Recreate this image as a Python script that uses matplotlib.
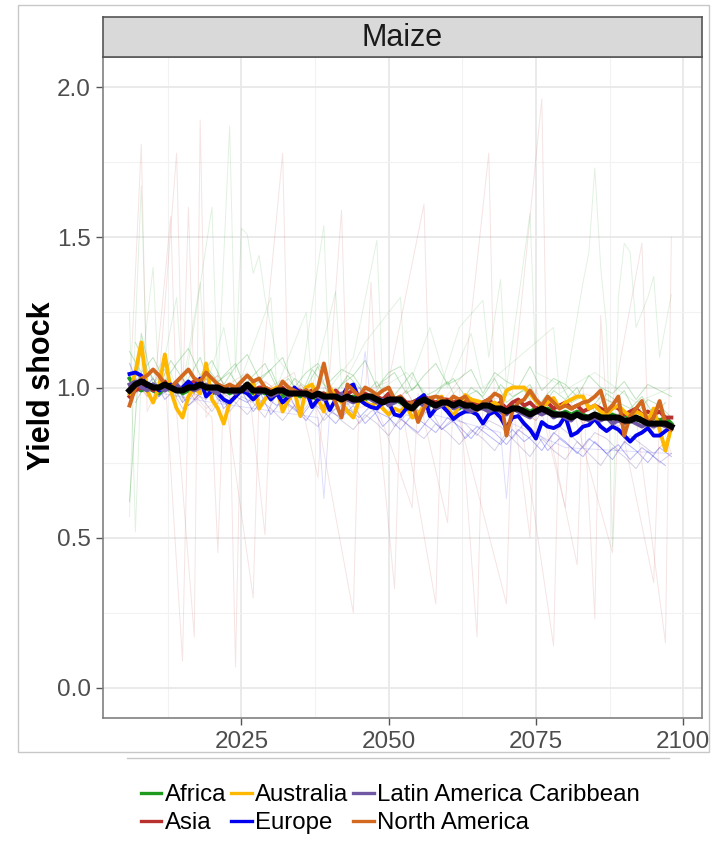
import numpy as np
import matplotlib
matplotlib.use('Agg')
import matplotlib.pyplot as plt
from matplotlib.lines import Line2D
from matplotlib.patches import Rectangle
from matplotlib.ticker import FixedLocator

plt.rcParams['font.family'] = ['Liberation Sans', 'DejaVu Sans']

# years of the simulation
years = np.arange(2006, 2099)
even_years = np.arange(2006, 2099, 2)
odd_years = np.arange(2007, 2098, 2)

regions = ['Africa', 'Asia', 'Australia', 'Europe', 'Latin America Caribbean', 'North America']
region_colors = ['#1E9A1E', '#B8312F', '#FFB800', '#0000EE', '#7058A3', '#D2691E']

# regional means (thick lines), 2006-2098
africa = [1.03, 1.00, 0.99, 1.00, 0.99, 0.98, 1.00, 0.99, 1.01, 0.98,
          0.99, 1.00, 0.99, 1.00, 0.98, 0.99, 1.00, 0.98, 0.99, 1.00,
          0.99, 0.98, 0.99, 0.98, 0.99, 0.98, 0.97, 0.99, 0.98, 0.97,
          0.98, 0.97, 0.96, 0.98, 0.97, 0.96, 0.97, 0.96, 0.97, 0.96,
          0.96, 0.97, 0.95, 0.96, 0.95, 0.96, 0.95, 0.94, 0.95, 0.96,
          0.95, 0.94, 0.95, 0.94, 0.95, 0.94, 0.93, 0.95, 0.94, 0.93,
          0.94, 0.93, 0.94, 0.92, 0.93, 0.94, 0.92, 0.93, 0.92, 0.93,
          0.92, 0.93, 0.92, 0.91, 0.92, 0.91, 0.92, 0.91, 0.90, 0.91,
          0.91, 0.90, 0.91, 0.90, 0.91, 0.90, 0.89, 0.90, 0.89, 0.90,
          0.89, 0.90, 0.88]
asia = [0.97, 0.99, 1.00, 1.01, 0.99, 1.00, 1.02, 1.00, 0.99, 1.00,
        1.01, 1.02, 1.01, 1.00, 0.99, 1.01, 1.00, 0.99, 1.00, 1.00,
        1.00, 0.99, 1.00, 1.00, 0.99, 0.99, 1.00, 0.98, 0.99, 0.99,
        0.98, 0.99, 0.98, 0.98, 0.97, 0.99, 0.97, 0.98, 0.99, 0.97,
        0.98, 0.97, 0.97, 0.96, 0.98, 0.96, 0.97, 0.95, 0.95, 0.96,
        0.97, 0.96, 0.95, 0.96, 0.96, 0.95, 0.96, 0.95, 0.96, 0.94,
        0.95, 0.96, 0.94, 0.95, 0.93, 0.95, 0.96, 0.94, 0.95, 0.93,
        0.94, 0.95, 0.93, 0.94, 0.95, 0.93, 0.94, 0.92, 0.93, 0.94,
        0.93, 0.92, 0.94, 0.93, 0.91, 0.92, 0.93, 0.91, 0.92, 0.91,
        0.92, 0.90, 0.90]
australia = [0.98, 1.05, 1.15, 0.99, 0.95, 1.00, 1.11, 0.99, 0.93, 0.90,
             0.97, 1.00, 0.98, 1.08, 0.96, 0.93, 0.88, 0.95, 0.97, 1.00,
             0.98, 1.02, 0.93, 0.96, 0.99, 1.00, 0.92, 0.96, 0.99, 0.905,
             1.00, 1.01, 0.96, 0.92, 1.00, 0.97, 0.95, 0.92, 0.90, 0.96,
             0.95, 0.94, 0.95, 0.93, 0.91, 0.93, 0.92, 0.94, 0.90, 0.91,
             0.94, 0.955, 0.93, 0.97, 0.93, 0.905, 0.94, 0.975, 0.96, 0.955,
             0.95, 0.94, 0.95, 0.935, 0.99, 1.00, 1.00, 1.00, 0.98, 0.955,
             0.93, 0.95, 0.965, 0.93, 0.95, 0.96, 0.97, 0.97, 0.93, 0.94,
             0.92, 0.91, 0.93, 0.94, 0.92, 0.905, 0.92, 0.91, 0.89, 0.93,
             0.86, 0.79, 0.87]
europe = [1.045, 1.05, 1.04, 1.00, 1.01, 0.99, 1.00, 1.01, 0.99, 1.00,
          1.02, 1.00, 1.03, 0.97, 0.99, 0.98, 0.96, 0.95, 0.97, 0.99,
          0.98, 0.96, 0.98, 0.99, 0.96, 0.98, 0.95, 0.97, 1.00, 0.98,
          0.99, 0.935, 0.96, 0.97, 0.925, 0.96, 0.97, 1.00, 1.01, 0.96,
          0.945, 0.935, 0.93, 0.95, 0.95, 0.91, 0.905, 0.93, 0.93, 0.96,
          0.975, 0.905, 0.93, 0.94, 0.92, 0.895, 0.91, 0.92, 0.92, 0.91,
          0.88, 0.91, 0.92, 0.90, 0.865, 0.90, 0.905, 0.88, 0.86, 0.83,
          0.885, 0.87, 0.865, 0.875, 0.905, 0.84, 0.85, 0.87, 0.875, 0.895,
          0.87, 0.855, 0.87, 0.86, 0.84, 0.82, 0.84, 0.85, 0.865, 0.84,
          0.84, 0.855, 0.87]
latin_america = [1.01, 1.02, 1.00, 0.99, 1.01, 1.00, 0.99, 1.00, 1.01, 0.99,
                 1.00, 0.99, 1.00, 1.01, 0.99, 0.98, 1.00, 0.99, 0.98, 1.00,
                 0.99, 0.99, 0.98, 0.99, 0.97, 0.98, 0.99, 0.97, 0.98, 0.98,
                 0.97, 0.98, 0.97, 0.96, 0.97, 0.96, 0.98, 0.96, 0.95, 0.96,
                 0.97, 0.96, 0.95, 0.96, 0.94, 0.95, 0.96, 0.94, 0.93, 0.95,
                 0.94, 0.95, 0.93, 0.94, 0.95, 0.93, 0.94, 0.93, 0.92, 0.93,
                 0.93, 0.92, 0.93, 0.92, 0.91, 0.93, 0.92, 0.91, 0.90, 0.92,
                 0.91, 0.92, 0.90, 0.91, 0.90, 0.89, 0.91, 0.90, 0.89, 0.90,
                 0.89, 0.90, 0.88, 0.89, 0.88, 0.89, 0.88, 0.87, 0.88, 0.87,
                 0.88, 0.87, 0.87]
north_america = [0.94, 1.00, 1.03, 1.04, 1.06, 1.04, 1.01, 1.00, 1.02, 1.04,
                 1.06, 1.03, 1.02, 1.05, 1.03, 1.01, 1.00, 1.01, 1.00, 1.02,
                 1.04, 1.02, 1.03, 1.00, 0.99, 0.985, 1.02, 1.00, 0.99, 0.98,
                 0.99, 0.98, 1.00, 1.08, 0.99, 0.95, 0.90, 1.01, 0.99, 0.97,
                 1.00, 0.99, 0.975, 0.99, 1.00, 0.96, 0.97, 0.94, 0.95, 0.885,
                 0.93, 0.965, 0.97, 0.965, 0.95, 0.97, 0.96, 0.97, 0.94, 0.925,
                 0.95, 0.96, 0.98, 0.97, 0.84, 0.92, 0.95, 0.96, 0.99, 0.96,
                 0.94, 0.97, 0.95, 0.93, 0.94, 0.93, 0.94, 0.95, 0.955, 0.97,
                 0.99, 0.92, 0.94, 0.97, 0.84, 0.905, 0.93, 0.955, 0.88, 0.90,
                 0.955, 0.88, 0.86]
global_mean = [0.99, 1.01, 1.02, 1.01, 1.00, 1.00, 1.01, 1.00, 0.99, 0.99,
               1.00, 1.00, 1.01, 1.00, 1.00, 1.00, 0.99, 0.99, 0.99, 0.99,
               1.01, 0.99, 0.99, 0.99, 0.98, 0.99, 0.99, 0.98, 0.98, 0.98,
               0.98, 0.97, 0.98, 0.97, 0.97, 0.97, 0.96, 0.97, 0.96, 0.96,
               0.97, 0.97, 0.96, 0.95, 0.96, 0.96, 0.96, 0.94, 0.93, 0.95,
               0.96, 0.95, 0.94, 0.95, 0.95, 0.94, 0.95, 0.94, 0.94, 0.93,
               0.94, 0.94, 0.93, 0.93, 0.92, 0.93, 0.93, 0.92, 0.91, 0.92,
               0.93, 0.92, 0.91, 0.91, 0.91, 0.90, 0.91, 0.90, 0.90, 0.91,
               0.90, 0.90, 0.90, 0.90, 0.89, 0.89, 0.90, 0.89, 0.88, 0.88,
               0.88, 0.88, 0.87]

# single-country series (faint lines), every other year
cty_africa_a = [1.12, 1.05, 1.10, 1.02, 1.08, 1.13, 1.04, 1.09, 1.01, 1.07,
                1.11, 1.03, 1.06, 1.10, 1.00, 1.05, 1.08, 1.02, 1.06, 1.04,
                1.09, 1.00, 1.05, 1.07, 0.99, 1.04, 1.08, 1.01, 1.03, 1.06,
                0.98, 1.05, 1.02, 1.00, 1.07, 0.99, 1.03, 1.01, 0.97, 1.04,
                1.00, 0.98, 1.02, 0.96, 1.01, 0.99, 0.97]
cty_latam_a = [0.95, 1.02, 0.97, 1.00, 0.93, 0.98, 0.96, 1.01, 0.92, 0.97,
               0.95, 0.90, 0.98, 0.94, 0.91, 0.96, 0.89, 0.93, 0.95, 0.88,
               0.92, 0.94, 0.87, 0.91, 0.89, 0.93, 0.86, 0.90, 0.88, 0.84,
               0.89, 0.87, 0.83, 0.88, 0.85, 0.82, 0.87, 0.84, 0.80, 0.85,
               0.83, 0.79, 0.84, 0.81, 0.78, 0.82]
cty_europe_a = [1.08, 0.99, 1.03, 0.96, 1.00, 0.94, 0.98, 1.01, 0.93, 0.97,
                0.95, 0.99, 0.91, 0.96, 0.93, 0.89, 0.95, 0.92, 0.90, 0.94,
                0.88, 0.92, 0.90, 0.86, 0.91, 0.88, 0.85, 0.90, 0.87, 0.83,
                0.88, 0.85, 0.81, 0.86, 0.83, 0.79, 0.85, 0.82, 0.78, 0.83,
                0.80, 0.76, 0.82, 0.79, 0.75, 0.80, 0.77]
cty_asia_a = [1.02, 0.97, 1.05, 0.99, 1.03, 0.96, 1.01, 1.04, 0.98, 1.00,
              0.96, 1.02, 0.99, 0.95, 1.01, 0.97, 0.94, 0.99, 0.96, 1.00,
              0.93, 0.97, 0.95, 0.99, 0.92, 0.96, 0.94, 0.90, 0.95, 0.93,
              0.97, 0.91, 0.94, 0.92, 0.89, 0.95, 0.91, 0.93, 0.88, 0.92,
              0.90, 0.87, 0.91, 0.89, 0.86, 0.90]
cty_africa_b = [1.15, 1.06, 1.00, 1.09, 1.03, 0.98, 1.07, 1.02, 1.05, 0.99,
                1.04, 1.08, 1.00, 1.03, 0.97, 1.06, 1.01, 0.98, 1.04, 1.00,
                0.96, 1.02, 1.05, 0.98, 1.01, 0.95, 1.00, 1.03, 0.97, 0.99,
                0.94, 1.01, 0.97, 0.99, 0.93, 0.98, 1.02, 0.95, 0.97, 0.92,
                0.98, 0.95, 0.93, 0.97, 0.91, 0.95]
cty_latam_b = [1.00, 1.04, 0.95, 0.99, 1.02, 0.94, 0.97, 0.92, 0.98, 0.95,
               0.91, 0.96, 0.93, 0.89, 0.94, 0.90, 0.87, 0.93, 0.89, 0.86,
               0.91, 0.88, 0.84, 0.90, 0.86, 0.83, 0.88, 0.85, 0.81, 0.86,
               0.83, 0.79, 0.85, 0.81, 0.77, 0.83, 0.79, 0.76, 0.82, 0.78,
               0.74, 0.80, 0.77, 0.73, 0.79, 0.75, 0.78]
cty_europe_b = [1.05, 1.00, 0.97, 1.02, 0.95, 0.99, 1.03, 0.96, 0.94, 0.99,
                0.92, 0.97, 0.94, 0.98, 0.90, 0.95, 0.92, 0.88, 0.93, 0.90,
                0.94, 0.87, 0.91, 0.88, 0.85, 0.90, 0.86, 0.89, 0.83, 0.87,
                0.84, 0.81, 0.86, 0.82, 0.85, 0.79, 0.83, 0.80, 0.77, 0.82,
                0.78, 0.81, 0.76, 0.80, 0.77, 0.74]
cty_africa_c = [0.62, 1.18, 1.01, 1.06, 0.97, 1.03, 1.10, 0.99, 1.04, 1.08,
                0.98, 1.02, 1.06, 0.97, 1.03, 1.00, 1.07, 0.96, 1.01, 1.04,
                0.98, 1.02, 0.95, 1.00, 1.05, 0.97, 0.99, 1.02, 0.94, 1.00,
                0.97, 1.03, 0.95, 0.98, 1.01, 0.93, 0.99, 0.96, 1.00, 0.92,
                0.97, 0.95, 0.99, 0.91, 0.96, 0.94, 0.90]

# volatile countries, (year, value) at the readable turning points
spiky_asia_a = [(2006, 0.95), (2008, 1.81), (2009, 0.92), (2012, 1.05), (2015, 0.09), (2016, 1.0),
                (2019, 0.93), (2023, 0.98), (2024, 0.07), (2025, 1.02), (2028, 0.95), (2032, 1.78),
                (2033, 0.92), (2037, 1.0), (2044, 0.25), (2045, 0.98), (2050, 1.02), (2056, 1.61),
                (2057, 0.9), (2062, 1.0), (2065, 0.17), (2066, 0.95), (2071, 0.98), (2076, 1.96),
                (2077, 0.88), (2082, 0.41), (2083, 0.98), (2088, 0.95), (2093, 1.48), (2094, 0.88),
                (2098, 0.85)]
spiky_asia_b = [(2006, 1.05), (2010, 0.95), (2013, 1.57), (2014, 0.92), (2017, 0.17), (2018, 1.89),
                (2019, 0.90), (2022, 1.0), (2026, 1.05), (2029, 0.51), (2030, 1.0), (2035, 0.93),
                (2040, 1.05), (2042, 1.59), (2043, 0.92), (2048, 0.95), (2051, 0.33), (2052, 0.96),
                (2058, 0.28), (2059, 0.95), (2063, 1.05), (2067, 1.78), (2068, 0.9), (2072, 0.95),
                (2078, 0.14), (2079, 0.93), (2083, 1.0), (2085, 0.23), (2086, 1.24), (2087, 0.92),
                (2092, 0.9), (2097, 0.15), (2098, 1.5)]
spiky_asia_c = [(2006, 0.97), (2011, 1.02), (2014, 1.78), (2015, 0.95), (2016, 1.6), (2017, 0.96),
                (2020, 0.9), (2021, 0.45), (2022, 1.0), (2027, 0.3), (2028, 0.98), (2034, 1.05),
                (2038, 0.7), (2039, 1.0), (2046, 0.95), (2047, 1.35), (2048, 0.94), (2054, 0.6),
                (2055, 0.98), (2060, 0.55), (2061, 0.97), (2070, 0.28), (2071, 0.96), (2074, 0.5),
                (2075, 1.0), (2080, 0.6), (2081, 0.95), (2088, 0.45), (2089, 0.92), (2095, 0.35),
                (2096, 0.9), (2098, 0.78)]
spiky_africa_a = [(2006, 0.57), (2007, 1.2), (2008, 1.67), (2009, 1.0), (2012, 1.1), (2015, 0.95),
                  (2020, 1.6), (2021, 1.0), (2023, 1.87), (2024, 1.05), (2025, 1.53), (2026, 1.51),
                  (2027, 1.38), (2028, 1.44), (2029, 1.3), (2031, 1.1), (2035, 1.0), (2039, 1.54),
                  (2040, 1.0), (2044, 1.1), (2048, 1.49), (2049, 1.0), (2053, 1.05), (2058, 0.95),
                  (2062, 1.2), (2066, 1.29), (2067, 1.1), (2069, 1.36), (2070, 1.0), (2074, 1.58),
                  (2075, 1.05), (2080, 1.0), (2083, 1.35), (2084, 1.45), (2085, 1.73), (2086, 1.4),
                  (2087, 1.2), (2088, 0.47), (2089, 1.3), (2090, 1.48), (2091, 1.45), (2092, 1.2),
                  (2094, 1.3), (2095, 1.37), (2096, 1.1), (2098, 1.31)]
spiky_africa_b = [(2006, 1.25), (2007, 0.52), (2008, 1.05), (2010, 1.4), (2011, 1.0), (2014, 1.3),
                  (2015, 1.0), (2018, 1.35), (2019, 1.0), (2022, 1.2), (2024, 0.98), (2030, 1.3),
                  (2031, 1.0), (2036, 1.25), (2037, 1.0), (2041, 1.32), (2042, 1.0), (2046, 1.15),
                  (2052, 1.3), (2053, 0.98), (2057, 1.2), (2060, 1.0), (2064, 1.18), (2066, 1.0),
                  (2072, 1.1), (2078, 1.2), (2079, 0.98), (2085, 1.05), (2092, 0.95), (2098, 1.0)]
spiky_latam = [(2006, 1.0), (2020, 0.95), (2038, 0.9), (2039, 0.63), (2040, 0.92), (2045, 0.96),
               (2046, 1.12), (2047, 0.95), (2050, 0.95), (2069, 0.85), (2070, 0.63), (2071, 0.88),
               (2080, 0.8), (2098, 0.78)]

fig = plt.figure(figsize=(7.15, 8.48), dpi=100)
W, H = 715, 848

# outer frame and legend box edge
fig.add_artist(Rectangle((18 / W, 1 - 752 / H), (709 - 18) / W, (752 - 5) / H,
                         transform=fig.transFigure, fill=False, edgecolor='#C8C8C8', lw=1))
fig.add_artist(Line2D([127 / W, 669 / W], [1 - 758 / H, 1 - 758 / H],
                      transform=fig.transFigure, color='#C8C8C8', lw=1))

ax = fig.add_axes([103 / W, 1 - 718 / H, (702 - 103) / W, (718 - 57) / H])

# faint country lines
faint = [(even_years, cty_africa_a, region_colors[0]),
         (odd_years, cty_latam_a, region_colors[4]),
         (even_years, cty_europe_a, region_colors[3]),
         (odd_years, cty_asia_a, region_colors[1]),
         (odd_years, cty_africa_b, region_colors[0]),
         (even_years, cty_latam_b, region_colors[4]),
         (odd_years, cty_europe_b, region_colors[3]),
         (even_years, cty_africa_c, region_colors[0])]
for x, y, c in faint:
    ax.plot(x, y, color=c, alpha=0.28, lw=0.7)

spiky = [(spiky_asia_a, region_colors[1]), (spiky_asia_b, region_colors[1]),
         (spiky_asia_c, region_colors[1]), (spiky_africa_a, region_colors[0]),
         (spiky_africa_b, region_colors[0]), (spiky_latam, region_colors[3])]
for pts, c in spiky:
    xs, ys = zip(*pts)
    ax.plot(xs, ys, color=c, alpha=0.13, lw=0.7)

# regional means
for series, c in zip([africa, asia, australia, europe, latin_america, north_america], region_colors):
    ax.plot(years, series, color=c, lw=2.8, solid_joinstyle='round')
ax.plot(years, global_mean, color='black', lw=4.4, solid_joinstyle='round')

ax.set_xlim(2001.5, 2103.2)
ax.set_ylim(-0.1, 2.1)
ax.xaxis.set_major_locator(FixedLocator([2025, 2050, 2075, 2100]))
ax.xaxis.set_minor_locator(FixedLocator([2012.5, 2037.5, 2062.5, 2087.5]))
ax.yaxis.set_major_locator(FixedLocator([0, 0.5, 1.0, 1.5, 2.0]))
ax.yaxis.set_minor_locator(FixedLocator([0.25, 0.75, 1.25, 1.75]))
ax.set_yticklabels(['0.0', '0.5', '1.0', '1.5', '2.0'])
ax.grid(which='major', color='#E8E8E8', lw=1.3)
ax.grid(which='minor', color='#F2F2F2', lw=0.8)
ax.set_axisbelow(True)
ax.tick_params(which='major', length=5, width=1, color='#555555',
               labelsize=17.5, labelcolor='#4D4D4D', pad=4)
ax.tick_params(which='minor', length=0)
for s in ax.spines.values():
    s.set_color('#808080')
    s.set_linewidth(1.2)

# facet strip
strip = fig.add_axes([103 / W, 1 - 57 / H, (702 - 103) / W, 40 / H])
strip.set_facecolor('#D9D9D9')
strip.set_xticks([])
strip.set_yticks([])
for s in strip.spines.values():
    s.set_color('#555555')
    s.set_linewidth(1.2)
strip.text(0.5, 0.47, 'Maize', ha='center', va='center', fontsize=22, color='#1A1A1A',
           transform=strip.transAxes)

fig.text(42 / W, 1 - 386 / H, 'Yield shock', rotation=90, ha='center', va='center',
         fontsize=22, fontweight='bold', color='black')

handles = [Line2D([], [], color=c, lw=2.4) for c in region_colors]
fig.legend(handles, regions, ncol=3, loc='upper left', bbox_to_anchor=(141 / W, 1 - 784 / H),
           frameon=False, fontsize=17.3, handlelength=0.85, handletextpad=0.15,
           columnspacing=0.2, labelspacing=0.25, borderpad=0, borderaxespad=0)

fig.savefig('out.png', dpi=100)
